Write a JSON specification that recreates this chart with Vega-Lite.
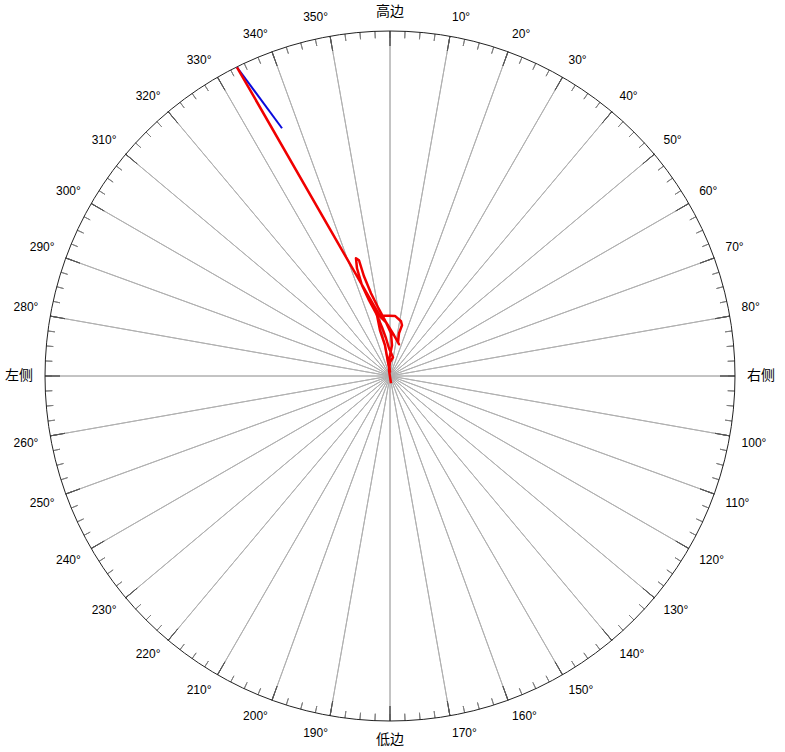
{
  "$schema": "https://vega.github.io/schema/vega-lite/v6.json",
  "width": 690,
  "height": 690,
  "autosize": {"type": "none"},
  "padding": {"left": 45, "top": 31, "right": 50, "bottom": 31},
  "background": "white",
  "config": {"view": {"stroke": null}},
  "datasets": {
    "ticks": [
      {"a":0},{"a":2.5},{"a":5},{"a":7.5},{"a":10},{"a":12.5},{"a":15},{"a":17.5},{"a":20},{"a":22.5},{"a":25},{"a":27.5},
      {"a":30},{"a":32.5},{"a":35},{"a":37.5},{"a":40},{"a":42.5},{"a":45},{"a":47.5},{"a":50},{"a":52.5},{"a":55},{"a":57.5},
      {"a":60},{"a":62.5},{"a":65},{"a":67.5},{"a":70},{"a":72.5},{"a":75},{"a":77.5},{"a":80},{"a":82.5},{"a":85},{"a":87.5},
      {"a":90},{"a":92.5},{"a":95},{"a":97.5},{"a":100},{"a":102.5},{"a":105},{"a":107.5},{"a":110},{"a":112.5},{"a":115},{"a":117.5},
      {"a":120},{"a":122.5},{"a":125},{"a":127.5},{"a":130},{"a":132.5},{"a":135},{"a":137.5},{"a":140},{"a":142.5},{"a":145},{"a":147.5},
      {"a":150},{"a":152.5},{"a":155},{"a":157.5},{"a":160},{"a":162.5},{"a":165},{"a":167.5},{"a":170},{"a":172.5},{"a":175},{"a":177.5},
      {"a":180},{"a":182.5},{"a":185},{"a":187.5},{"a":190},{"a":192.5},{"a":195},{"a":197.5},{"a":200},{"a":202.5},{"a":205},{"a":207.5},
      {"a":210},{"a":212.5},{"a":215},{"a":217.5},{"a":220},{"a":222.5},{"a":225},{"a":227.5},{"a":230},{"a":232.5},{"a":235},{"a":237.5},
      {"a":240},{"a":242.5},{"a":245},{"a":247.5},{"a":250},{"a":252.5},{"a":255},{"a":257.5},{"a":260},{"a":262.5},{"a":265},{"a":267.5},
      {"a":270},{"a":272.5},{"a":275},{"a":277.5},{"a":280},{"a":282.5},{"a":285},{"a":287.5},{"a":290},{"a":292.5},{"a":295},{"a":297.5},
      {"a":300},{"a":302.5},{"a":305},{"a":307.5},{"a":310},{"a":312.5},{"a":315},{"a":317.5},{"a":320},{"a":322.5},{"a":325},{"a":327.5},
      {"a":330},{"a":332.5},{"a":335},{"a":337.5},{"a":340},{"a":342.5},{"a":345},{"a":347.5},{"a":350},{"a":352.5},{"a":355},{"a":357.5}
    ],
    "labels": [
      {"a":0,"t":"高边"},{"a":10,"t":"10°"},{"a":20,"t":"20°"},{"a":30,"t":"30°"},{"a":40,"t":"40°"},{"a":50,"t":"50°"},
      {"a":60,"t":"60°"},{"a":70,"t":"70°"},{"a":80,"t":"80°"},{"a":90,"t":"右侧"},{"a":100,"t":"100°"},{"a":110,"t":"110°"},
      {"a":120,"t":"120°"},{"a":130,"t":"130°"},{"a":140,"t":"140°"},{"a":150,"t":"150°"},{"a":160,"t":"160°"},{"a":170,"t":"170°"},
      {"a":180,"t":"低边"},{"a":190,"t":"190°"},{"a":200,"t":"200°"},{"a":210,"t":"210°"},{"a":220,"t":"220°"},{"a":230,"t":"230°"},
      {"a":240,"t":"240°"},{"a":250,"t":"250°"},{"a":260,"t":"260°"},{"a":270,"t":"左侧"},{"a":280,"t":"280°"},{"a":290,"t":"290°"},
      {"a":300,"t":"300°"},{"a":310,"t":"310°"},{"a":320,"t":"320°"},{"a":330,"t":"330°"},{"a":340,"t":"340°"},{"a":350,"t":"350°"}
    ],
    "track": [
      {"s":"b","i":1,"x":-31.3,"y":71.81},
      {"s":"b","i":2,"x":-44.35,"y":89.49},
      {"s":"r","i":1,"x":0.29,"y":-2.1},
      {"s":"r","i":2,"x":-0.29,"y":1.67},
      {"s":"r","i":3,"x":0,"y":3.99},
      {"s":"r","i":4,"x":0.87,"y":5.43},
      {"s":"r","i":5,"x":-0.29,"y":8.04},
      {"s":"r","i":6,"x":-1.16,"y":10.94},
      {"s":"r","i":7,"x":-2.32,"y":14.13},
      {"s":"r","i":8,"x":-4.06,"y":18.19},
      {"s":"r","i":9,"x":-6.09,"y":21.96},
      {"s":"r","i":10,"x":-8.12,"y":26.3},
      {"s":"r","i":11,"x":-9.57,"y":31.23},
      {"s":"r","i":12,"x":-9.86,"y":34.13},
      {"s":"r","i":13,"x":-8.99,"y":33.55},
      {"s":"r","i":14,"x":-7.54,"y":28.91},
      {"s":"r","i":15,"x":-5.51,"y":23.99},
      {"s":"r","i":16,"x":-3.48,"y":19.93},
      {"s":"r","i":17,"x":-1.45,"y":16.16},
      {"s":"r","i":18,"x":0.29,"y":12.39},
      {"s":"r","i":19,"x":0.58,"y":8.91},
      {"s":"r","i":20,"x":-0.29,"y":4.57},
      {"s":"r","i":21,"x":0,"y":1.09},
      {"s":"r","i":22,"x":-0.58,"y":3.99},
      {"s":"r","i":23,"x":-1.45,"y":8.91},
      {"s":"r","i":24,"x":-2.9,"y":13.26},
      {"s":"r","i":25,"x":-3.77,"y":17.61},
      {"s":"r","i":26,"x":1.45,"y":17.41},
      {"s":"r","i":27,"x":3.19,"y":15.87},
      {"s":"r","i":28,"x":3.48,"y":14.71},
      {"s":"r","i":29,"x":2.61,"y":12.39},
      {"s":"r","i":30,"x":2.32,"y":9.78},
      {"s":"r","i":31,"x":2.61,"y":9.2},
      {"s":"r","i":32,"x":1.16,"y":11.81},
      {"s":"r","i":33,"x":-1.16,"y":15.58},
      {"s":"r","i":34,"x":-2.9,"y":17.32},
      {"s":"r","i":35,"x":-44.35,"y":89.49}
    ]
  },
  "layer": [
    {
      "data": {"name": "labels"},
      "mark": {"type": "arc", "innerRadius": 0, "outerRadius": 345, "stroke": "#b0b0b0", "strokeWidth": 1, "fillOpacity": 0},
      "encoding": {
        "theta": {"field": "a", "type": "quantitative", "stack": null, "scale": {"domain": [0, 360], "range": [0, 6.283185307179586]}},
        "theta2": {"field": "a"}
      }
    },
    {
      "data": {"name": "ticks"},
      "mark": {"type": "arc", "innerRadius": 338, "outerRadius": 345, "stroke": "#808080", "strokeWidth": 1, "fillOpacity": 0},
      "encoding": {
        "theta": {"field": "a", "type": "quantitative", "stack": null},
        "theta2": {"field": "a"}
      }
    },
    {
      "data": {"name": "labels"},
      "mark": {"type": "arc", "innerRadius": 330, "outerRadius": 345, "stroke": "#555555", "strokeWidth": 1, "fillOpacity": 0},
      "encoding": {
        "theta": {"field": "a", "type": "quantitative", "stack": null},
        "theta2": {"field": "a"}
      }
    },
    {
      "data": {"values": [{"c": 1}]},
      "mark": {"type": "arc", "theta": 0, "theta2": 6.2832, "innerRadius": 0, "outerRadius": 345, "stroke": "#222222", "strokeWidth": 1, "fillOpacity": 0}
    },
    {
      "data": {"name": "labels"},
      "transform": [{"filter": "datum.a > 0 && datum.a < 90"}],
      "mark": {"type": "text", "radius": 357, "align": "left", "baseline": "bottom", "font": "Liberation Sans", "fontSize": 12, "color": "#000000"},
      "encoding": {"theta": {"field": "a", "type": "quantitative", "stack": null}, "text": {"field": "t"}}
    },
    {
      "data": {"name": "labels"},
      "transform": [{"filter": "datum.a > 90 && datum.a < 180"}],
      "mark": {"type": "text", "radius": 357, "align": "left", "baseline": "top", "font": "Liberation Sans", "fontSize": 12, "color": "#000000"},
      "encoding": {"theta": {"field": "a", "type": "quantitative", "stack": null}, "text": {"field": "t"}}
    },
    {
      "data": {"name": "labels"},
      "transform": [{"filter": "datum.a > 180 && datum.a < 270"}],
      "mark": {"type": "text", "radius": 357, "align": "right", "baseline": "top", "font": "Liberation Sans", "fontSize": 12, "color": "#000000"},
      "encoding": {"theta": {"field": "a", "type": "quantitative", "stack": null}, "text": {"field": "t"}}
    },
    {
      "data": {"name": "labels"},
      "transform": [{"filter": "datum.a > 270"}],
      "mark": {"type": "text", "radius": 357, "align": "right", "baseline": "bottom", "font": "Liberation Sans", "fontSize": 12, "color": "#000000"},
      "encoding": {"theta": {"field": "a", "type": "quantitative", "stack": null}, "text": {"field": "t"}}
    },
    {
      "data": {"name": "labels"},
      "transform": [{"filter": "datum.a == 0"}],
      "mark": {"type": "text", "radius": 357, "align": "center", "baseline": "bottom", "font": "Noto Sans CJK SC", "fontSize": 14, "color": "#000000"},
      "encoding": {"theta": {"field": "a", "type": "quantitative", "stack": null}, "text": {"field": "t"}}
    },
    {
      "data": {"name": "labels"},
      "transform": [{"filter": "datum.a == 180"}],
      "mark": {"type": "text", "radius": 357, "align": "center", "baseline": "top", "font": "Noto Sans CJK SC", "fontSize": 14, "color": "#000000"},
      "encoding": {"theta": {"field": "a", "type": "quantitative", "stack": null}, "text": {"field": "t"}}
    },
    {
      "data": {"name": "labels"},
      "transform": [{"filter": "datum.a == 90"}],
      "mark": {"type": "text", "radius": 357, "align": "left", "baseline": "middle", "font": "Noto Sans CJK SC", "fontSize": 14, "color": "#000000"},
      "encoding": {"theta": {"field": "a", "type": "quantitative", "stack": null}, "text": {"field": "t"}}
    },
    {
      "data": {"name": "labels"},
      "transform": [{"filter": "datum.a == 270"}],
      "mark": {"type": "text", "radius": 357, "align": "right", "baseline": "middle", "font": "Noto Sans CJK SC", "fontSize": 14, "color": "#000000"},
      "encoding": {"theta": {"field": "a", "type": "quantitative", "stack": null}, "text": {"field": "t"}}
    },
    {
      "data": {"name": "track"},
      "transform": [{"filter": "datum.s == 'b'"}],
      "mark": {"type": "line", "color": "#0a0adc", "strokeWidth": 2},
      "encoding": {
        "x": {"field": "x", "type": "quantitative", "scale": {"domain": [-100, 100], "nice": false, "zero": false}, "axis": null},
        "y": {"field": "y", "type": "quantitative", "scale": {"domain": [-100, 100], "nice": false, "zero": false}, "axis": null},
        "order": {"field": "i", "type": "quantitative"}
      }
    },
    {
      "data": {"name": "track"},
      "transform": [{"filter": "datum.s == 'r'"}],
      "mark": {"type": "line", "color": "#f00000", "strokeWidth": 2.5, "strokeJoin": "round"},
      "encoding": {
        "x": {"field": "x", "type": "quantitative", "axis": null},
        "y": {"field": "y", "type": "quantitative", "axis": null},
        "order": {"field": "i", "type": "quantitative"}
      }
    }
  ]
}
